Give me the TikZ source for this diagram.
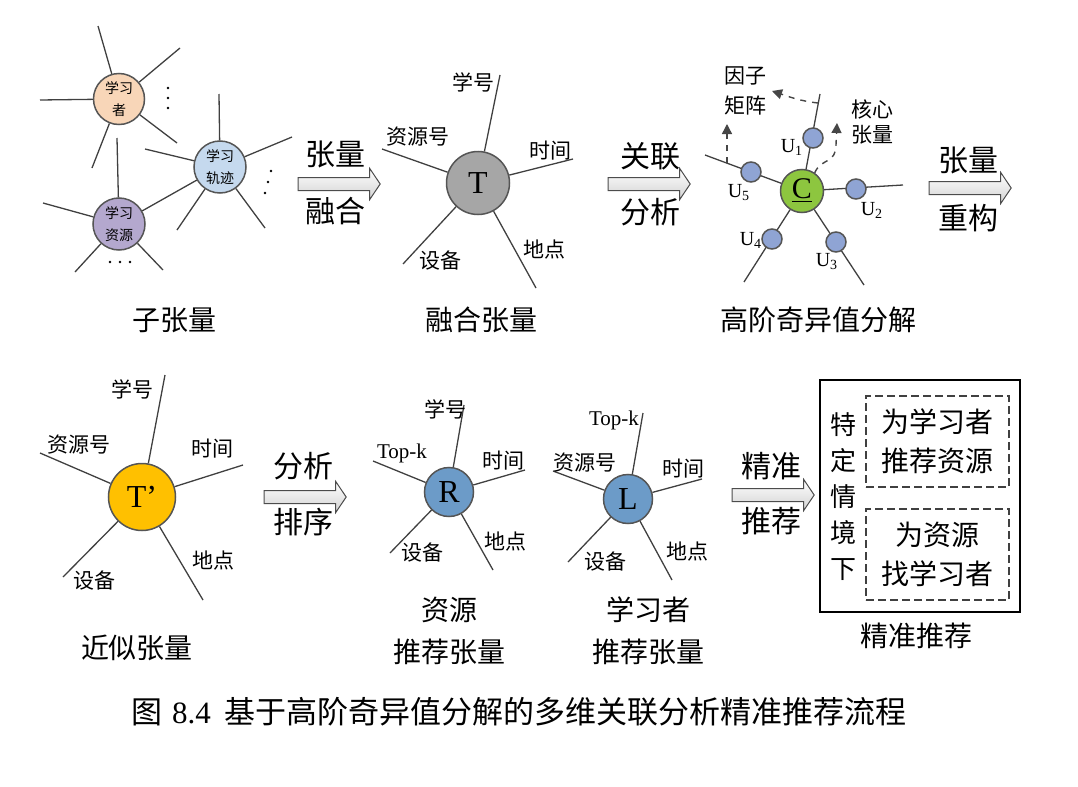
\documentclass[tikz,border=0pt]{standalone}
\usepackage{fontspec}
\setmainfont{Liberation Serif}
\newfontfamily\cjk{Noto Sans CJK SC}
\usetikzlibrary{shapes.arrows,arrows.meta}

\definecolor{learner}{RGB}{248,214,184}
\definecolor{trace}{RGB}{197,217,238}
\definecolor{resource}{RGB}{180,168,206}
\definecolor{fused}{RGB}{166,166,166}
\definecolor{core}{RGB}{141,198,63}
\definecolor{factor}{RGB}{143,164,212}
\definecolor{approx}{RGB}{255,192,0}
\definecolor{recom}{RGB}{108,155,200}
\definecolor{hubline}{RGB}{85,85,85}
\definecolor{spokeline}{RGB}{64,64,64}
\definecolor{dashline}{RGB}{70,70,70}

\begin{document}
\begin{tikzpicture}[x=0.5pt,y=-0.5pt,
  hub/.style={circle, draw=hubline, line width=0.75pt, inner sep=0pt},
  spoke/.style={draw=spokeline, line width=0.65pt},
  tag/.style={font=\cjk\fontsize{10.5}{12}\selectfont, inner sep=0pt},
  ulabel/.style={font=\fontsize{10}{12}\selectfont, inner sep=0pt},
  title/.style={font=\cjk\fontsize{14}{21}\selectfont, align=center, inner sep=0pt},
  arrlabel/.style={font=\cjk\fontsize{15}{17}\selectfont, inner sep=0pt},
  letter/.style={font=\fontsize{16}{16}\selectfont},
  bigarrow/.style={single arrow, draw=gray!60!black, line width=0.5pt,
    top color=white, bottom color=gray!35, inner sep=3pt, minimum height=41pt,
    single arrow head extend=4.5pt, single arrow tip angle=112},
  dasharrow/.style={draw=dashline, dashed, line width=0.7pt,
    -{Triangle[length=5pt,width=5pt]}},
  recbox/.style={draw=black!75, dashed, line width=0.6pt, dash pattern=on 4pt off 2pt,
    minimum width=71.5pt, minimum height=45.5pt, align=center,
    font=\cjk\fontsize{14}{19.5}\selectfont},
]
\useasboundingbox (0,0) rectangle (1078,787);

% sub-tensors
\node[hub, fill=learner, minimum size=25.5pt, align=center,
  font=\cjk\fontsize{7}{11}\selectfont] (lrn) at (119,99) {学习\\者};
\node[hub, fill=trace, minimum size=26pt, align=center,
  font=\cjk\fontsize{7}{11}\selectfont] (trc) at (220,167) {学习\\轨迹};
\node[hub, fill=resource, minimum size=26pt, align=center,
  font=\cjk\fontsize{7}{11}\selectfont] (res) at (119,224) {学习\\资源};
\foreach \x/\y [count=\i] in {98/26, 180/48, 40/100, 177/143, 92/168}
  {\coordinate (lrn\i) at (\x,\y); \draw[spoke] (lrn) -- (lrn\i);}
\foreach \x/\y [count=\i] in {219/94, 292/137, 145/149, 177/230, 265/228}
  {\coordinate (trc\i) at (\x,\y); \draw[spoke] (trc) -- (trc\i);}
\foreach \x/\y [count=\i] in {117/138, 43/203, 75/272, 163/270}
  {\coordinate (res\i) at (\x,\y); \draw[spoke] (res) -- (res\i);}
\draw[spoke] (res) -- (trc);
\foreach \y in {88,98,108} \fill (168,\y) circle (1.4);
\foreach \x/\y in {271/171, 268/182, 265/193} \fill (\x,\y) circle (1.4);
\foreach \x in {110,120,130} \fill (\x,262) circle (1.4);
\node[title] (t1) at (175,320) {子张量};

% fusion
\node[bigarrow] (a1) at (337,184) {};
\node[arrlabel] (a1u) at (335,154) {张量};
\node[arrlabel] (a1d) at (335,211) {融合};

% fused tensor
\node[hub, fill=fused, minimum size=31.5pt, letter] (T) at (478,183) {T};
\foreach \x/\y [count=\i] in {500/75, 382/149, 573/159, 403/264, 536/288}
  {\coordinate (T\i) at (\x,\y); \draw[spoke] (T) -- (T\i);}
\node[tag] (Tl1) at (473,82) {学号};
\node[tag] (Tl2) at (418,137) {资源号};
\node[tag] (Tl3) at (550,151) {时间};
\node[tag] (Tl4) at (440,261) {设备};
\node[tag] (Tl5) at (544,250) {地点};
\node[title] (t2) at (481,320) {融合张量};

% association analysis
\node[bigarrow] (a2) at (647,184) {};
\node[arrlabel] (a2u) at (650,156) {关联};
\node[arrlabel] (a2d) at (650,212) {分析};

% HOSVD
\node[hub, fill=core, minimum size=21.5pt, font=\fontsize{15}{15}\selectfont] (C) at (802,191) {\underline{C}};
\foreach \x/\y [count=\i] in {820/94, 903/185, 864/285, 744/282, 705/155}
  {\coordinate (C\i) at (\x,\y); \draw[spoke] (C) -- (C\i);}
\node[hub, fill=factor, minimum size=10pt] (U1) at (813,138) {};
\node[hub, fill=factor, minimum size=10pt] (U2) at (856,189) {};
\node[hub, fill=factor, minimum size=10pt] (U3) at (836,242) {};
\node[hub, fill=factor, minimum size=10pt] (U4) at (772,239) {};
\node[hub, fill=factor, minimum size=10pt] (U5) at (751,172) {};
\node[ulabel] (Ul1) at (792,147) {U\textsubscript{1}};
\node[ulabel] (Ul2) at (872,210) {U\textsubscript{2}};
\node[ulabel] (Ul3) at (827,262) {U\textsubscript{3}};
\node[ulabel] (Ul4) at (751,240) {U\textsubscript{4}};
\node[ulabel] (Ul5) at (739,193) {U\textsubscript{5}};
\coordinate (f1) at (727,163);
\coordinate (f1e) at (727,124);
\coordinate (f2) at (818,103);
\coordinate (f2e) at (772,91);
\coordinate (f3e) at (837,123);
\draw[dasharrow] (f1) -- (f1e);
\draw[dasharrow] (f2) .. controls (800,101) and (790,97) .. (f2e);
\draw[dasharrow] (C.55) .. controls (821,158) and (836,164) .. (836,145) -- (f3e);
\node[tag, align=center, font=\cjk\fontsize{10.5}{15}\selectfont] (fm) at (745,91) {因子\\矩阵};
\node[tag, align=center, font=\cjk\fontsize{10.5}{12.5}\selectfont] (ct) at (872,122) {核心\\张量};
\node[title] (t3) at (818,320) {高阶奇异值分解};

% reconstruction
\node[bigarrow] (a3) at (968,188) {};
\node[arrlabel] (a3u) at (968,160) {张量};
\node[arrlabel] (a3d) at (968,218) {重构};

% approximate tensor
\node[hub, fill=approx, minimum size=33.5pt, letter] (Ta) at (142,497) {T’};
\foreach \x/\y [count=\i] in {165/375, 40/453, 243/465, 63/577, 203/600}
  {\coordinate (Ta\i) at (\x,\y); \draw[spoke] (Ta) -- (Ta\i);}
\node[tag] (Tal1) at (133,389) {学号};
\node[tag] (Tal2) at (79,445) {资源号};
\node[tag] (Tal3) at (212,449) {时间};
\node[tag] (Tal4) at (95,581) {设备};
\node[tag] (Tal5) at (213,561) {地点};
\node[title] (t4) at (137,648) {近似张量};

% ranking
\node[bigarrow] (a4) at (303,497) {};
\node[arrlabel] (a4u) at (303,466) {分析};
\node[arrlabel] (a4d) at (303,522) {排序};

% resource recommendation tensor
\node[hub, fill=recom, minimum size=24.5pt, letter] (R) at (449,492) {R};
\foreach \x/\y [count=\i] in {464/405, 373/461, 525/470, 390/553, 493/570}
  {\coordinate (R\i) at (\x,\y); \draw[spoke] (R) -- (R\i);}
\node[tag] (Rl1) at (445,409) {学号};
\node[tag, font=\fontsize{10.5}{12}\selectfont] (Rl2) at (402,453) {Top-k};
\node[tag] (Rl3) at (503,461) {时间};
\node[tag] (Rl4) at (422,553) {设备};
\node[tag] (Rl5) at (505,542) {地点};
\node[title] (t5) at (449,631) {资源\\推荐张量};

% learner recommendation tensor
\node[hub, fill=recom, minimum size=24.5pt, letter] (L) at (628,499) {L};
\foreach \x/\y [count=\i] in {643/413, 553/471, 702/479, 568/562, 672/580}
  {\coordinate (L\i) at (\x,\y); \draw[spoke] (L) -- (L\i);}
\node[tag, font=\fontsize{10.5}{12}\selectfont] (Ll1) at (614,420) {Top-k};
\node[tag] (Ll2) at (585,463) {资源号};
\node[tag] (Ll3) at (683,469) {时间};
\node[tag] (Ll4) at (605,562) {设备};
\node[tag] (Ll5) at (687,552) {地点};
\node[title] (t6) at (648,631) {学习者\\推荐张量};

% precise recommendation
\node[bigarrow] (a5) at (771,495) {};
\node[arrlabel] (a5u) at (771,466) {精准};
\node[arrlabel] (a5d) at (771,521) {推荐};

\node[draw=black, line width=0.6pt, minimum width=100pt, minimum height=116pt] (box) at (920,496) {};
\node[align=center, inner sep=0pt, font=\cjk\fontsize{13}{18}\selectfont] (ctx) at (843,497) {特\\定\\情\\境\\下};
\node[recbox] (rec1) at (937.5,441.5) {为学习者\\推荐资源};
\node[recbox] (rec2) at (937.5,554.5) {为资源\\找学习者};
\node[title] (t7) at (916,636) {精准推荐};

% caption
\node[font=\cjk\fontsize{15.5}{18}\selectfont, inner sep=0pt] (cap) at (519,712)
  {图\hspace{5pt}{\rmfamily 8.4}\hspace{7pt}基于高阶奇异值分解的多维关联分析精准推荐流程};
\end{tikzpicture}
\end{document}
